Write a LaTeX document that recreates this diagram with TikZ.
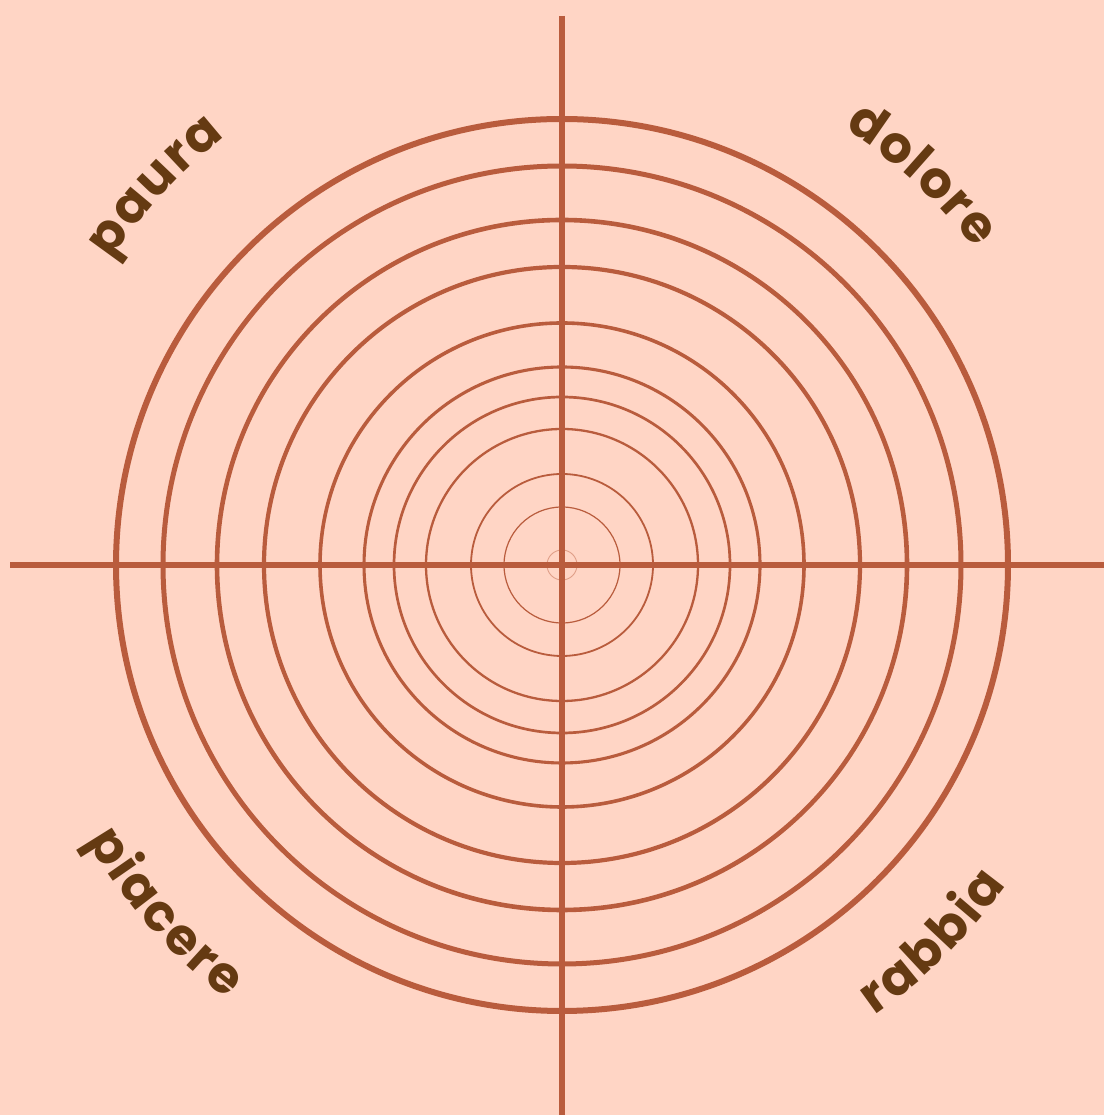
\documentclass[tikz,border=0pt]{standalone}
\usepackage{fontspec}
\newfontfamily\lblfont{Poppins}[WordSpace=0.2]
\usetikzlibrary{decorations.text}
\definecolor{bg}{HTML}{FFD5C5}
\definecolor{ln}{HTML}{B95C3D}
\definecolor{txt}{HTML}{653A12}
\tikzset{
  ring/.style={draw=ln},
  axis/.style={draw=ln, line width=6pt},
  lbl/.style={decorate, decoration={text along path, text align=center,
     text={|\color{txt}\lblfont\bfseries\fontsize{51}{51}\selectfont|#1}}}
}
\begin{document}
\begin{tikzpicture}[x=1pt,y=1pt]
\fill[bg] (0,0) rectangle (1104,1115);
\useasboundingbox (0,0) rectangle (1104,1115);
\coordinate (C) at (562,550);
\coordinate (T) at (562,1099);
\coordinate (B) at (562,0);
\coordinate (L) at (10,550);
\coordinate (R) at (1104,550);
% rings
\foreach \r/\w/\o in {446/6/1,399/5/1,345/4.6/1,298/4.2/1,242/3.6/1,198/3.1/1,168/2.7/1,136/2.3/1,91/1.8/1,58/1.2/1,15/0.9/0.45}{
  \draw[ring, line width=\w pt, draw opacity=\o] (C) circle[radius=\r pt];
}
% axes
\draw[axis] (T) -- (B);
\draw[axis] (L) -- (R);
% labels
\path[lbl={p a u r a}] ([shift={(C)}]172:545pt) arc[start angle=172, end angle=102, radius=545pt];
\path[lbl={d o l o r e}] ([shift={(C)}]82.3:520pt) arc[start angle=82.3, end angle=12.3, radius=520pt];
\path[lbl={p i a c e r e}] ([shift={(C)}]186.2:549pt) arc[start angle=186.2, end angle=256.2, radius=549pt];
\path[lbl={r a b b i a}] ([shift={(C)}]-80.5:548pt) arc[start angle=-80.5, end angle=-10.5, radius=548pt];
\end{tikzpicture}
\end{document}
